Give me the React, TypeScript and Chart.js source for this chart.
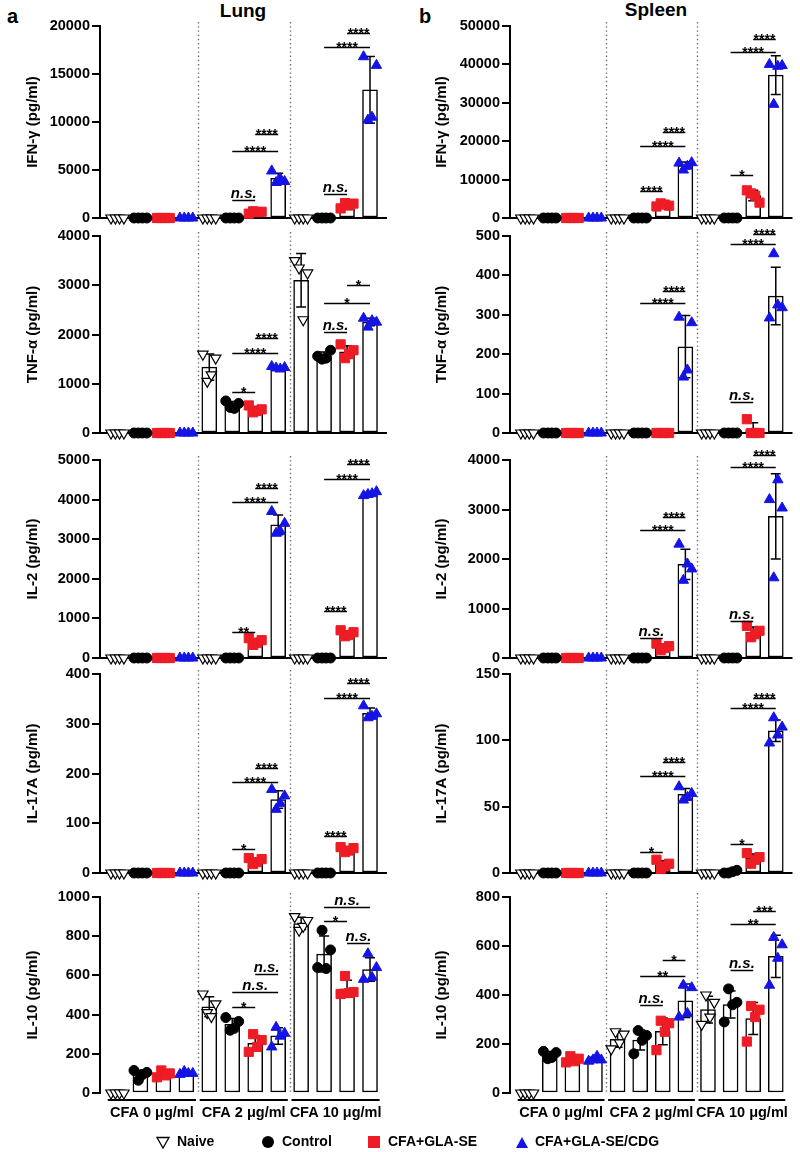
import React, { useEffect, useRef } from 'react';
import { Chart, registerables } from 'chart.js';

Chart.register(...registerables);

const FONT = '"Liberation Sans", Arial, Helvetica, sans-serif';
Chart.defaults.font.family = FONT;
Chart.defaults.color = '#000';

// ---------------- DATA ----------------
// Each panel: 12 bars, dose-major (CFA 0, CFA 2, CFA 10), within each dose:
// Naive, Control, CFA+GLA-SE, CFA+GLA-SE/CDG. Four replicate points per bar.
const GROUPS = ['Naive', 'Control', 'CFA+GLA-SE', 'CFA+GLA-SE/CDG'];
const DOSES = ['CFA 0 μg/ml', 'CFA 2 μg/ml', 'CFA 10 μg/ml'];
const PANEL_TITLES = ['Lung', 'Spleen'];
const PANEL_LETTERS = ['a', 'b'];

const Z = [0, 0, 0, 0];

const lungIFNg = [
  Z, Z, Z, Z,
  Z, Z, [450, 700, 600, 650], [4900, 3700, 4100, 3800],
  Z, Z, [1000, 1550, 1300, 1500], [16800, 10200, 10500, 15900],
];
const spleenIFNg = [
  Z, Z, Z, Z,
  Z, Z, [3000, 3800, 3500, 3200], [14300, 12500, 13500, 14400],
  Z, Z, [7200, 6400, 5800, 4000], [40000, 29600, 39500, 39700],
];
const lungTNFa = [
  Z, Z, Z, Z,
  [1600, 1050, 1180, 1520], [650, 520, 500, 600], [560, 420, 450, 480], [1350, 1320, 1300, 1330],
  [3500, 3350, 2300, 3250], [1560, 1500, 1520, 1680], [1800, 1520, 1600, 1680], [2330, 2150, 2280, 2250],
];
const spleenTNFa = [
  Z, Z, Z, Z,
  Z, Z, Z, [294, 142, 160, 280],
  Z, Z, [35, 0, 0, 0], [292, 455, 325, 318],
];
const lungIL2 = [
  Z, Z, Z, Z,
  Z, Z, [500, 330, 380, 450], [3700, 3150, 3200, 3400],
  Z, Z, [700, 550, 580, 650], [4100, 4130, 4150, 4200],
];
const spleenIL2 = [
  Z, Z, Z, Z,
  Z, Z, [290, 160, 200, 240], [2300, 1570, 1900, 1800],
  Z, Z, [650, 420, 480, 550], [3200, 1620, 3600, 3030],
];
const lungIL17A = [
  Z, Z, Z, Z,
  Z, Z, [30, 18, 22, 28], [168, 128, 140, 155],
  Z, Z, [52, 42, 45, 50], [336, 312, 315, 320],
];
const spleenIL17A = [
  Z, Z, Z, Z,
  Z, Z, [10, 3, 5, 7], [65, 55, 57, 60],
  Z, [0, 0, 1, 2], [15, 7, 10, 12], [98, 117, 104, 110],
];
const lungIL10 = [
  Z, [115, 65, 95, 105], [80, 115, 90, 100], [95, 110, 100, 100],
  [505, 410, 390, 455], [385, 320, 330, 365], [210, 300, 235, 270], [235, 335, 290, 305],
  [900, 830, 850, 880], [640, 830, 635, 730], [505, 597, 510, 515], [580, 710, 590, 640],
];
const spleenIL10 = [
  Z, [170, 140, 145, 165], [125, 150, 130, 140], [130, 135, 150, 135],
  [180, 250, 205, 240], [160, 255, 215, 235], [175, 295, 250, 285], [310, 440, 325, 430],
  [280, 400, 310, 370], [290, 425, 360, 370], [210, 355, 310, 340], [440, 635, 550, 605],
];

// significance brackets: [fromBar, toBar, value, label]
const lungIFNgSig = [[5, 6, 1900, 'n.s.'], [5, 7, 7000, '****'], [6, 7, 8750, '****'], [9, 10, 2500, 'n.s.'], [9, 11, 17800, '****'], [10, 11, 19270, '****']];
const spleenIFNgSig = [[5, 6, 7000, '****'], [5, 7, 18650, '****'], [6, 7, 22500, '****'], [9, 10, 11100, '*'], [9, 11, 43300, '****'], [10, 11, 46600, '****']];
const lungTNFaSig = [[5, 6, 830, '*'], [5, 7, 1620, '****'], [6, 7, 1930, '****'], [9, 10, 2050, 'n.s.'], [9, 11, 2640, '*'], [10, 11, 3000, '*']];
const spleenTNFaSig = [[5, 7, 330, '****'], [6, 7, 361, '****'], [9, 10, 79, 'n.s.'], [9, 11, 480, '****'], [10, 11, 505, '****']];
const lungIL2Sig = [[5, 6, 660, '**'], [5, 7, 3940, '****'], [6, 7, 4300, '****'], [9, 10, 1190, '****'], [9, 11, 4520, '****'], [10, 11, 4900, '****']];
const spleenIL2Sig = [[5, 6, 400, 'n.s.'], [5, 7, 2590, '****'], [6, 7, 2850, '****'], [9, 10, 740, 'n.s.'], [9, 11, 3860, '****'], [10, 11, 4100, '****']];
const lungIL17ASig = [[5, 6, 48, '*'], [5, 7, 183, '****'], [6, 7, 211, '****'], [9, 10, 74, '****'], [9, 11, 352, '****'], [10, 11, 382, '****']];
const spleenIL17ASig = [[5, 6, 16, '*'], [5, 7, 73, '****'], [6, 7, 84, '****'], [9, 10, 22, '*'], [9, 11, 124, '****'], [10, 11, 132, '****']];
const lungIL10Sig = [[5, 6, 437, '*'], [5, 7, 514, 'n.s.'], [6, 7, 605, 'n.s.'], [9, 10, 879, '*'], [9, 11, 951, 'n.s.'], [10, 11, 767, 'n.s.']];
const spleenIL10Sig = [[5, 6, 358, 'n.s.'], [5, 7, 477, '**'], [6, 7, 543, '*'], [9, 10, 502, 'n.s.'], [9, 11, 689, '**'], [10, 11, 744, '***']];

// tick labels
const lungIFNgTicks = [0, 5000, 10000, 15000, 20000];
const spleenIFNgTicks = [0, 10000, 20000, 30000, 40000, 50000];
const lungTNFaTicks = [0, 1000, 2000, 3000, 4000];
const spleenTNFaTicks = [0, 100, 200, 300, 400, 500];
const lungIL2Ticks = [0, 1000, 2000, 3000, 4000, 5000];
const spleenIL2Ticks = [0, 1000, 2000, 3000, 4000];
const lungIL17ATicks = [0, 100, 200, 300, 400];
const spleenIL17ATicks = [0, 50, 100, 150];
const lungIL10Ticks = [0, 200, 400, 600, 800, 1000];
const spleenIL10Ticks = [0, 200, 400, 600, 800];

// ---------------- STYLE / LAYOUT ----------------
const JITTER = [-0.28, -0.09, 0.09, 0.28];
const RED = '#ee1c25';
const BLUE = '#1414e6';
const MARKERS = [
  { pointStyle: 'triangle', rotation: 180, backgroundColor: '#ffffff', borderColor: '#000000', borderWidth: 1.2, radius: 6 },
  { pointStyle: 'circle', rotation: 0, backgroundColor: '#000000', borderColor: '#000000', borderWidth: 1, radius: 5 },
  { pointStyle: 'rect', rotation: 0, backgroundColor: RED, borderColor: RED, borderWidth: 1, radius: 6.5 },
  { pointStyle: 'triangle', rotation: 0, backgroundColor: BLUE, borderColor: BLUE, borderWidth: 1, radius: 6 },
];

const COLS = [
  { left: 0, axisX: 100, rightX: 387, titleX: 33 },
  { left: 400, axisX: 510, rightX: 798, titleX: 442 },
];
const ROWS = [
  { top: 26, zero: 218 },
  { top: 236, zero: 433 },
  { top: 460, zero: 658 },
  { top: 674, zero: 873 },
  { top: 897, zero: 1093 },
];

const PANELS = [
  { col: 0, row: 0, label: 'IFN-γ (pg/ml)', points: lungIFNg, sig: lungIFNgSig, ticks: lungIFNgTicks },
  { col: 1, row: 0, label: 'IFN-γ (pg/ml)', points: spleenIFNg, sig: spleenIFNgSig, ticks: spleenIFNgTicks },
  { col: 0, row: 1, label: 'TNF-α (pg/ml)', points: lungTNFa, sig: lungTNFaSig, ticks: lungTNFaTicks },
  { col: 1, row: 1, label: 'TNF-α (pg/ml)', points: spleenTNFa, sig: spleenTNFaSig, ticks: spleenTNFaTicks },
  { col: 0, row: 2, label: 'IL-2 (pg/ml)', points: lungIL2, sig: lungIL2Sig, ticks: lungIL2Ticks },
  { col: 1, row: 2, label: 'IL-2 (pg/ml)', points: spleenIL2, sig: spleenIL2Sig, ticks: spleenIL2Ticks },
  { col: 0, row: 3, label: 'IL-17A (pg/ml)', points: lungIL17A, sig: lungIL17ASig, ticks: lungIL17ATicks },
  { col: 1, row: 3, label: 'IL-17A (pg/ml)', points: spleenIL17A, sig: spleenIL17ASig, ticks: spleenIL17ATicks },
  { col: 0, row: 4, label: 'IL-10 (pg/ml)', points: lungIL10, sig: lungIL10Sig, ticks: lungIL10Ticks },
  { col: 1, row: 4, label: 'IL-10 (pg/ml)', points: spleenIL10, sig: spleenIL10Sig, ticks: spleenIL10Ticks },
];

const mean = (a: number[]) => a.reduce((s, v) => s + v, 0) / a.length;
const sd = (a: number[]) => {
  const m = mean(a);
  return Math.sqrt(a.reduce((s, v) => s + (v - m) * (v - m), 0) / (a.length - 1));
};

function layoutOf(p: any) {
  const col = COLS[p.col];
  const row = ROWS[p.row];
  const last = p.row === ROWS.length - 1;
  const padT = Math.min(30, row.top);
  const padB = last ? 1152 - row.zero : 14;
  const top = row.top - padT;
  const height = padT + (row.zero - row.top) + padB;
  return { col, row, last, padT, padB, top, height };
}

function Panel({ p }: { p: any }) {
  const ref = useRef<HTMLCanvasElement>(null);
  const L = layoutOf(p);

  useEffect(() => {
    if (!ref.current) return;
    const means = p.points.map((pts: number[]) => mean(pts));
    const sds = p.points.map((pts: number[]) => sd(pts));
    const nGroups = GROUPS.length;

    const scatterSets = GROUPS.map((g, gi) => {
      const data: any[] = [];
      p.points.forEach((pts: number[], i: number) => {
        if (i % nGroups !== gi) return;
        pts.forEach((v, k) => data.push({ x: i + JITTER[k], y: v }));
      });
      const m = MARKERS[gi];
      return {
        type: 'scatter',
        label: g,
        data,
        pointStyle: m.pointStyle,
        rotation: m.rotation,
        pointBackgroundColor: m.backgroundColor,
        pointBorderColor: m.borderColor,
        pointBorderWidth: m.borderWidth,
        pointRadius: m.radius,
        showLine: false,
        clip: false,
        order: 1,
      };
    });

    const t = p.ticks;
    const decor = {
      id: 'decor',
      beforeDatasetsDraw(chart: any) {
        const { ctx, chartArea, scales } = chart;
        const xs = scales.x, ys = scales.y;
        const y0 = ys.getPixelForValue(0);
        ctx.save();
        ctx.strokeStyle = '#6e6e6e';
        ctx.lineWidth = 1.4;
        ctx.setLineDash([1.4, 2.8]);
        for (let d = 1; d < DOSES.length; d++) {
          const x = Math.round(xs.getPixelForValue(d * nGroups - 0.5)) + 0.5;
          ctx.beginPath();
          ctx.moveTo(x, chartArea.top - 4);
          ctx.lineTo(x, y0);
          ctx.stroke();
        }
        ctx.setLineDash([]);
        if (!L.last) {
          ctx.strokeStyle = '#000';
          ctx.lineWidth = 2;
          ctx.beginPath();
          ctx.moveTo(chartArea.left, y0);
          ctx.lineTo(chartArea.right, y0);
          ctx.stroke();
        }
        ctx.restore();
      },
      afterDatasetDraw(chart: any, args: any) {
        if (args.index !== 0) return;
        const { ctx, scales } = chart;
        const xs = scales.x, ys = scales.y;
        ctx.save();
        ctx.strokeStyle = '#000';
        ctx.lineWidth = 1.5;
        means.forEach((m: number, i: number) => {
          const s = sds[i];
          if (!(s > 0)) return;
          const x = xs.getPixelForValue(i);
          const yt = ys.getPixelForValue(m + s);
          const yb = ys.getPixelForValue(Math.max(0, m - s));
          ctx.beginPath();
          ctx.moveTo(x, yt);
          ctx.lineTo(x, yb);
          ctx.moveTo(x - 5, yt);
          ctx.lineTo(x + 5, yt);
          if (m - s > 0) {
            ctx.moveTo(x - 5, yb);
            ctx.lineTo(x + 5, yb);
          }
          ctx.stroke();
        });
        ctx.restore();
      },
      afterDraw(chart: any) {
        const { ctx, chartArea, scales } = chart;
        const xs = scales.x, ys = scales.y;
        const y0 = ys.getPixelForValue(0);
        ctx.save();
        // brackets
        ctx.strokeStyle = '#000';
        ctx.fillStyle = '#000';
        ctx.lineWidth = 1.5;
        ctx.textAlign = 'center';
        p.sig.forEach(([a, b, v, lab]: any) => {
          const xa = xs.getPixelForValue(a);
          const xb = xs.getPixelForValue(b);
          const y = Math.round(ys.getPixelForValue(v)) + 0.5;
          ctx.beginPath();
          ctx.moveTo(xa, y);
          ctx.lineTo(xb, y);
          ctx.stroke();
          if (lab === 'n.s.') {
            ctx.font = `italic bold 15px ${FONT}`;
            ctx.textBaseline = 'alphabetic';
            ctx.fillText(lab, (xa + xb) / 2, y - 2.5);
          } else {
            ctx.font = `bold 14px ${FONT}`;
            ctx.textBaseline = 'alphabetic';
            ctx.fillText(lab, (xa + xb) / 2, y + 4);
          }
        });
        // y title
        ctx.save();
        ctx.translate(L.col.titleX - L.col.left, (chartArea.top + chartArea.bottom) / 2);
        ctx.rotate(-Math.PI / 2);
        ctx.font = `bold 15px ${FONT}`;
        ctx.textBaseline = 'middle';
        ctx.textAlign = 'center';
        ctx.fillText(p.label, 0, 0);
        ctx.restore();
        // group axis for last row
        if (L.last) {
          ctx.lineWidth = 2;
          ctx.font = `bold 14.5px ${FONT}`;
          ctx.textBaseline = 'middle';
          ctx.textAlign = 'center';
          DOSES.forEach((d, di) => {
            const xa = xs.getPixelForValue(di * nGroups - 0.42);
            const xb = xs.getPixelForValue(di * nGroups + nGroups - 1 + 0.42);
            ctx.beginPath();
            ctx.moveTo(xa, y0 + 7);
            ctx.lineTo(xb, y0 + 7);
            ctx.stroke();
            ctx.fillText(d, xs.getPixelForValue(di * nGroups + (nGroups - 1) / 2), y0 + 20);
          });
        }
        ctx.restore();
      },
    };

    const chart = new Chart(ref.current, {
      type: 'bar',
      data: {
        datasets: [
          {
            type: 'bar',
            label: 'mean',
            data: means.map((m: number, i: number) => ({ x: i, y: m })),
            backgroundColor: '#ffffff',
            borderColor: '#000000',
            borderWidth: 1.5,
            borderSkipped: false,
            barThickness: 15,
            clip: false,
            order: 10,
          } as any,
          ...(scatterSets as any[]),
        ],
      },
      options: {
        animation: false,
        responsive: false,
        events: [],
        layout: {
          padding: {
            top: L.padT,
            bottom: L.padB,
            left: 0,
            right: 400 - (L.col.rightX - L.col.left),
          },
        },
        plugins: { legend: { display: false }, tooltip: { enabled: false } },
        scales: {
          x: { type: 'linear', offset: false, min: -0.76, max: 11.74, display: false },
          y: {
            type: 'linear',
            min: t[0],
            max: t[t.length - 1],
            afterFit: (s: any) => { s.width = L.col.axisX - L.col.left; },
            ticks: {
              stepSize: t[1] - t[0],
              color: '#000',
              padding: 2,
              font: { family: FONT, size: 14.5, weight: 'bold' },
              callback: (v: any) => String(v),
            },
            grid: { display: true, drawOnChartArea: false, drawTicks: true, tickLength: 8, color: '#000', lineWidth: 2 },
            border: { display: true, color: '#000', width: 2 },
          },
        },
      } as any,
      plugins: [decor],
    });
    return () => chart.destroy();
  }, []);

  return (
    <canvas
      ref={ref}
      width={400}
      height={L.height}
      style={{ position: 'absolute', left: L.col.left, top: L.top, width: 400, height: L.height }}
    />
  );
}

function LegendMarker({ gi }: { gi: number }) {
  if (gi === 0) return <svg width="14" height="13"><polygon points="1,1.5 13,1.5 7,12" fill="#fff" stroke="#000" strokeWidth="1.3" /></svg>;
  if (gi === 1) return <svg width="14" height="14"><circle cx="7" cy="7" r="6" fill="#000" /></svg>;
  if (gi === 2) return <svg width="14" height="14"><rect x="1" y="1" width="12" height="12" fill={RED} /></svg>;
  return <svg width="14" height="13"><polygon points="7,1 13,12 1,12" fill={BLUE} /></svg>;
}

const LEGEND_POS = [
  { mx: 156, tx: 177 },
  { mx: 261, tx: 282 },
  { mx: 367, tx: 388 },
  { mx: 515, tx: 535 },
];

export default function App() {
  return (
    <div style={{ position: 'absolute', left: 0, top: 0, width: 800, height: 1152, background: '#fff', overflow: 'hidden', fontFamily: FONT }}>
      <div style={{ position: 'absolute', left: 7, top: 6, fontSize: 20, lineHeight: '20px', fontWeight: 'bold' }}>{PANEL_LETTERS[0]}</div>
      <div style={{ position: 'absolute', left: 419, top: 6, fontSize: 20, lineHeight: '20px', fontWeight: 'bold' }}>{PANEL_LETTERS[1]}</div>
      <div style={{ position: 'absolute', left: 143, width: 200, textAlign: 'center', top: 1, fontSize: 19, lineHeight: '19px', fontWeight: 'bold' }}>{PANEL_TITLES[0]}</div>
      <div style={{ position: 'absolute', left: 556, width: 200, textAlign: 'center', top: 0, fontSize: 19, lineHeight: '19px', fontWeight: 'bold' }}>{PANEL_TITLES[1]}</div>
      {PANELS.map((p, i) => <Panel key={i} p={p} />)}
      {GROUPS.map((g, gi) => (
        <React.Fragment key={g}>
          <div style={{ position: 'absolute', left: LEGEND_POS[gi].mx, top: 1135, width: 14, height: 14 }}>
            <LegendMarker gi={gi} />
          </div>
          <div style={{ position: 'absolute', left: LEGEND_POS[gi].tx, top: 1134, fontSize: 14, lineHeight: '14px', fontWeight: 'bold', whiteSpace: 'nowrap' }}>{g}</div>
        </React.Fragment>
      ))}
    </div>
  );
}
